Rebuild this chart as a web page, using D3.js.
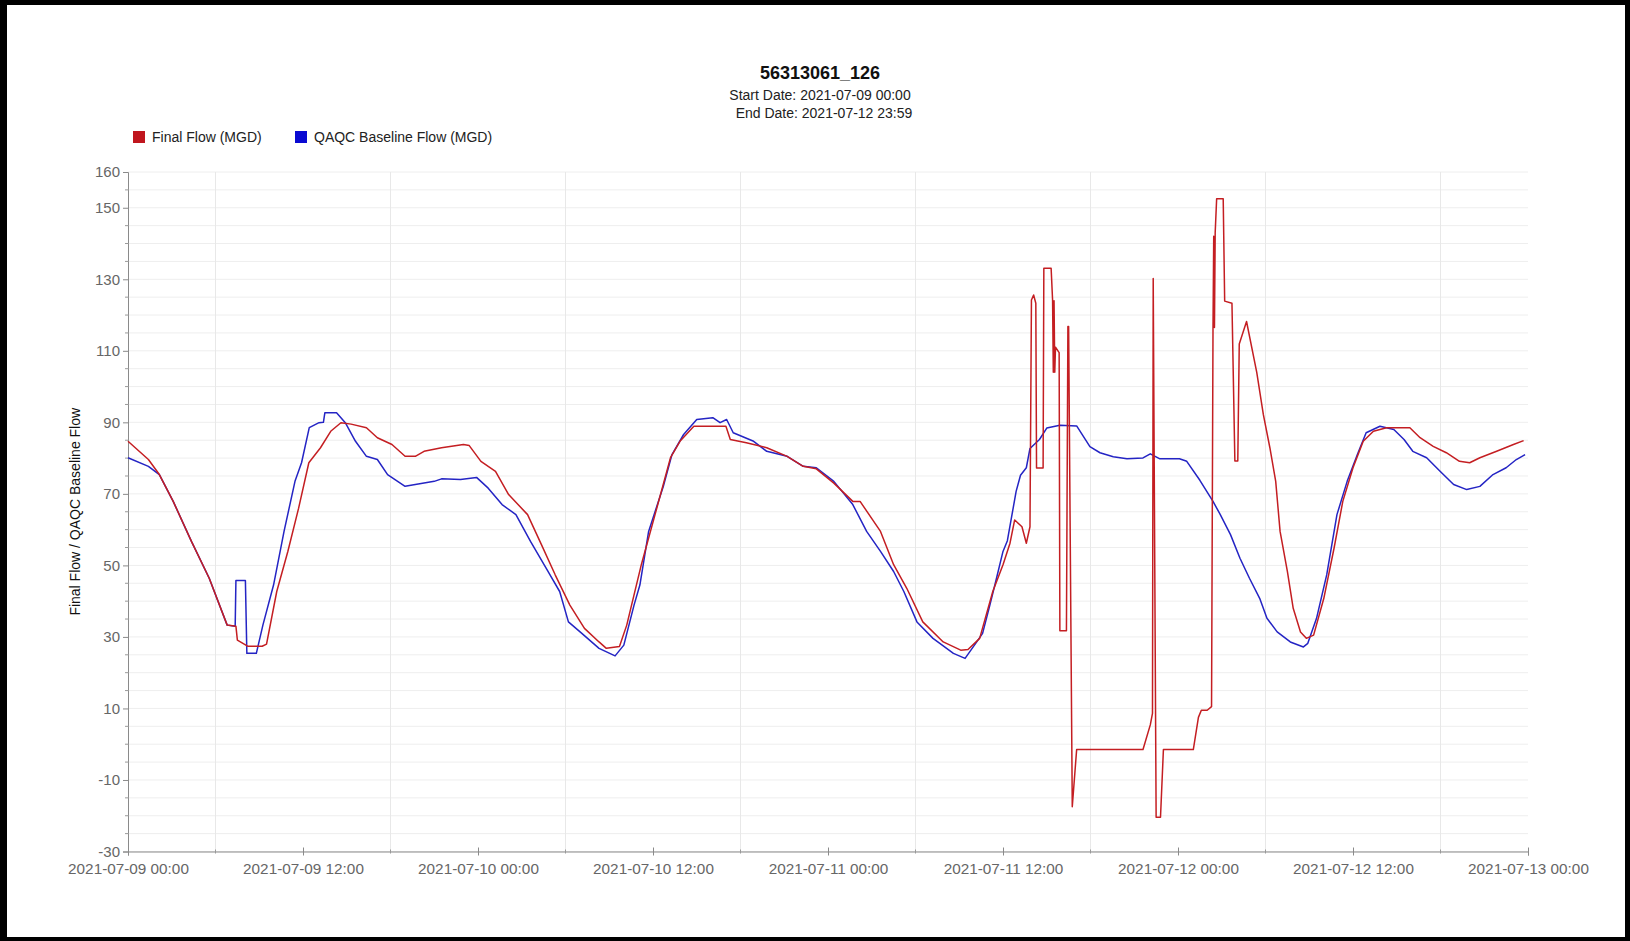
<!DOCTYPE html>
<html>
<head>
<meta charset="utf-8">
<script src="https://cdn.jsdelivr.net/npm/d3@7"></script>
<style>
  html, body { margin: 0; padding: 0; background: #000; }
  svg { display: block; }
  text { font-family: "Liberation Sans", Arial, Helvetica, sans-serif; }
</style>
</head>
<body>
<svg id="chart" width="1630" height="941"></svg>
<script>
// ---------------- DATA ----------------
const chartTitle = "56313061_126";
const subtitleLines = ["Start Date: 2021-07-09 00:00", "End Date: 2021-07-12 23:59"];
const seriesNames = ["Final Flow (MGD)", "QAQC Baseline Flow (MGD)"];
const yAxisTitle = "Final Flow / QAQC Baseline Flow";
const startTime = "2021-07-09T00:00:00Z";
const endTime = "2021-07-13T00:00:00Z";
const yTickValues = [-30, -10, 10, 30, 50, 70, 90, 110, 130, 150, 160];

// hours since 2021-07-09 00:00
const baselineHours = [
  0, 1.4, 2.15, 3.1, 4.35, 5.57, 6.8, 7.35, 7.4, 8.05, 8.15, 8.8, 9.25, 9.98, 10.7, 11.45, 11.9,
  12.43, 13.1, 13.4, 13.5, 14.3, 14.9, 15.6, 16.35, 17.1, 17.8, 19.0, 19.7, 21.0, 21.5, 22.8, 23.9,
  24.7, 25.65, 26.6, 27.6, 28.8, 29.6, 30.2, 31.0, 32.3, 33.4, 34.0, 34.7, 35.1, 35.7, 36.7, 37.3,
  38.1, 39.0, 40.1, 40.6, 41.05, 41.5, 42.9, 43.8, 45.2, 46.3, 47.2, 48.4, 49.7, 50.65, 51.6, 52.5,
  53.2, 54.1, 55.2, 56.6, 57.4, 58.2, 58.6, 59.1, 59.5, 60.0, 60.3, 60.9, 61.2, 61.6, 61.85, 62.5,
  63.0, 63.9, 65.05, 65.96, 66.65, 67.56, 68.5, 69.6, 70.1, 70.76, 72.1, 72.6, 73.5, 74.4, 74.9,
  75.6, 76.25, 76.9, 77.6, 78.1, 78.8, 79.7, 80.6, 80.9, 81.5, 82.2, 82.9, 83.6, 84.3, 84.9, 85.85,
  86.8, 87.5, 88.1, 89.05, 89.97, 90.9, 91.8, 92.7, 93.6, 94.5, 95.2, 95.8
];
const baselineFlow = [
  80.1, 77.7, 75.4, 67.9, 56.7, 46.4, 33.3, 33.0, 45.8, 45.8, 25.4, 25.4, 33.3, 44.5, 59.5, 73.5, 78.7,
  88.5, 89.9, 90.0, 92.7, 92.7, 89.9, 84.7, 80.5, 79.6, 75.4, 72.1, 72.6, 73.5, 74.2, 74.0, 74.6,
  71.6, 67.0, 64.2, 56.7, 48.3, 42.7, 34.2, 31.4, 26.8, 24.7, 27.7, 38.9, 44.5, 59.5, 72.0, 81.0,
  86.6, 90.8, 91.3, 89.9, 90.8, 87.1, 84.7, 81.9, 80.5, 77.7, 77.3, 73.5, 67.0, 59.5, 53.9, 48.3,
  42.7, 34.2, 29.6, 25.4, 24.0, 28.6, 31.0, 38.9, 45.5, 53.9, 56.9, 70.7, 75.2, 77.3, 82.7, 85.2,
  88.4, 89.2, 89.0, 83.2, 81.5, 80.4, 79.8, 80.05, 81.2, 79.8, 79.8, 79.1, 73.8, 67.9, 64.2,
  58.6, 52.0, 46.4, 40.8, 35.2, 31.4, 28.6, 27.2, 28.2, 35.2, 47.4, 64.2, 73.5, 81.0, 87.1, 88.9,
  88.0, 85.2, 81.9, 80.1, 76.3, 72.6, 71.2, 72.1, 75.4, 77.3, 79.6, 81.0
];

const finalHours = [
  0, 1.4, 2.15, 3.1, 4.35, 5.57, 6.8, 7.4, 7.5, 8.2, 9.2, 9.5, 10.2, 10.96, 11.7, 12.4, 13.2, 13.9,
  14.6, 15.3, 16.35, 17.1, 18.1, 19.0, 19.7, 20.3, 21.5, 23.0, 23.4, 24.2, 25.2, 26.1, 27.4, 28.35,
  29.3, 30.3, 31.3, 32.3, 32.8, 33.7, 34.2, 35.2, 36.2, 37.2, 37.85, 38.8, 41.0, 41.3, 42.4, 43.8,
  45.2, 46.3, 47.2, 48.4, 49.7, 50.2, 51.6, 52.5, 53.4, 54.5, 55.9, 57.1, 57.6, 58.4, 59.3, 60.0,
  60.48, 60.8, 61.3, 61.6, 61.85, 61.95, 62.1, 62.25, 62.3, 62.75, 62.8, 63.3, 63.4, 63.45, 63.5,
  63.55, 63.6, 63.85, 63.9, 64.35, 64.45, 64.5, 64.75, 65.05, 69.6, 70.1, 70.25, 70.3, 70.5, 70.8,
  71.0, 73.05, 73.4, 73.6, 74.0, 74.3, 74.4, 74.45, 74.5, 74.55, 74.65, 75.1, 75.2, 75.7, 75.9,
  76.1, 76.2, 76.7, 77.4, 77.85, 78.3, 78.7, 79.0, 79.5, 79.9, 80.4, 80.8, 81.3, 82.0, 82.7, 83.3,
  84.0, 84.7, 85.4, 86.3, 87.9, 88.6, 89.5, 90.4, 91.3, 92.0, 92.7, 93.85, 95.0, 95.7
];
const finalFlow = [
  84.7, 79.6, 75.4, 67.9, 56.7, 46.4, 33.3, 33.0, 29.1, 27.4, 27.4, 28.0, 42.7, 53.9, 66.0, 78.7, 82.9, 87.5,
  89.9, 89.5, 88.5, 85.7, 83.8, 80.5, 80.5, 81.9, 82.9, 83.8, 83.5, 79.1, 76.3, 69.8, 64.2, 55.8,
  47.3, 38.9, 32.4, 28.6, 26.8, 27.3, 33.3, 50.2, 65.1, 80.1, 84.7, 88.9, 88.9, 85.2, 84.3, 82.9,
  80.5, 77.7, 77.0, 73.0, 67.9, 67.9, 59.5, 50.2, 43.6, 34.2, 28.6, 26.3, 26.5, 29.6, 42.7, 50.2,
  56.2, 62.7, 60.8, 56.2, 60.8, 124.2, 125.6, 123.3, 77.2, 77.2, 133.1, 133.1, 124.2, 104.0, 124.0,
  104.0, 111.0, 109.5, 31.7, 31.7, 116.8, 116.8, -17.5, -1.5, -1.5, 5.4, 8.6, 130.2, -20.4, -20.4,
  -1.5, -1.5, 7.5, 9.5, 9.5, 10.5, 116.2, 142.0, 116.5, 143.0, 152.5, 152.5, 123.9, 123.3, 79.2,
  79.2, 111.9, 118.2, 104.0, 92.2, 82.9, 73.5, 59.5, 48.3, 38.0, 31.4, 29.6, 30.5, 40.8, 54.8, 67.9,
  77.3, 84.7, 87.5, 88.5, 88.5, 85.7, 83.3, 81.5, 79.1, 78.7, 80.1, 81.9, 83.8, 84.9
];

const seriesColors = ["#c41e22", "#2424c4"];
const legendColors = ["#c0161e", "#0a0ad2"];

// ---------------- CHART ----------------
const W = 1630, H = 941;
const svg = d3.select("#chart");
const font = '"Liberation Sans", Arial, Helvetica, sans-serif';

// frame
svg.append("rect").attr("x", 0).attr("y", 0).attr("width", W).attr("height", H).attr("fill", "#000");
svg.append("rect").attr("x", 7).attr("y", 5).attr("width", 1618).attr("height", 932).attr("fill", "#fff");

const plot = { left: 128, right: 1528, top: 172, bottom: 851.5 };
const t0 = new Date(startTime), t1 = new Date(endTime);
const toDate = h => new Date(t0.getTime() + h * 3600 * 1000);

const x = d3.scaleUtc().domain([t0, t1]).range([plot.left, plot.right]);
const y = d3.scaleLinear().domain([-30, 160]).range([plot.bottom, plot.top]);

// grid
const hGrid = d3.range(-30, 161, 5);
svg.append("g").selectAll("line").data(hGrid).join("line")
  .attr("x1", plot.left).attr("x2", plot.right)
  .attr("y1", d => y(d)).attr("y2", d => y(d))
  .attr("stroke", "#eeeeee").attr("stroke-width", 1);
const vGrid = d3.range(6, 96, 12).map(toDate);
svg.append("g").selectAll("line").data(vGrid).join("line")
  .attr("x1", d => x(d)).attr("x2", d => x(d))
  .attr("y1", plot.top).attr("y2", plot.bottom)
  .attr("stroke", "#e8e8e8").attr("stroke-width", 1);

// y axis
const yAxis = d3.axisLeft(y).tickValues(yTickValues).tickSize(5).tickPadding(3).tickFormat(d => String(d));
const gy = svg.append("g").attr("transform", `translate(${plot.left},0)`).call(yAxis);
gy.select(".domain").attr("stroke", "#8a8a8a");
gy.selectAll(".tick line").attr("stroke", "#8a8a8a");
gy.selectAll(".tick text").attr("fill", "#666").style("font-size", "15px").style("font-family", font);
// y minor ticks
svg.append("g").selectAll("line").data(hGrid.filter(v => !yTickValues.includes(v))).join("line")
  .attr("x1", plot.left - 3).attr("x2", plot.left + 1)
  .attr("y1", d => y(d)).attr("y2", d => y(d))
  .attr("stroke", "#9a9a9a");

// x axis
const xTicks = d3.range(0, 97, 12).map(toDate);
const xAxis = d3.axisBottom(x).tickValues(xTicks).tickSize(4).tickPadding(8)
  .tickFormat(d3.utcFormat("%Y-%m-%d %H:%M"));
const gx = svg.append("g").attr("transform", `translate(0,${plot.bottom})`).call(xAxis);
gx.select(".domain").attr("stroke", "#8a8a8a");
gx.selectAll(".tick line").attr("stroke", "#8a8a8a").attr("y1", -4).attr("y2", 4);
gx.selectAll(".tick text").attr("fill", "#666").style("font-size", "15.3px").style("font-family", font);
// x minor ticks
svg.append("g").selectAll("line").data(vGrid).join("line")
  .attr("x1", d => x(d)).attr("x2", d => x(d))
  .attr("y1", plot.bottom - 2).attr("y2", plot.bottom + 2)
  .attr("stroke", "#9a9a9a");

// lines
const finalData = finalHours.map((h, i) => ({ t: toDate(h), v: finalFlow[i] }));
const baseData = baselineHours.map((h, i) => ({ t: toDate(h), v: baselineFlow[i] }));
const line = d3.line().x(d => x(d.t)).y(d => y(d.v));

svg.append("path").datum(baseData).attr("d", line)
  .attr("fill", "none").attr("stroke", seriesColors[1]).attr("stroke-width", 1.5).attr("stroke-linejoin", "round");
svg.append("path").datum(finalData).attr("d", line)
  .attr("fill", "none").attr("stroke", seriesColors[0]).attr("stroke-width", 1.5).attr("stroke-linejoin", "round");

// title
svg.append("text").attr("x", 820).attr("y", 79).attr("text-anchor", "middle")
  .style("font-size", "18px").style("font-weight", "bold").attr("fill", "#111").text(chartTitle);
svg.append("text").attr("x", 820).attr("y", 99.5).attr("text-anchor", "middle")
  .style("font-size", "14px").attr("fill", "#222").text(subtitleLines[0]);
svg.append("text").attr("x", 824).attr("y", 118).attr("text-anchor", "middle")
  .style("font-size", "14px").attr("fill", "#222").text(subtitleLines[1]);

// legend
const legendX = [133, 295];
seriesNames.forEach((name, i) => {
  svg.append("rect").attr("x", legendX[i]).attr("y", 131).attr("width", 12).attr("height", 12)
    .attr("fill", legendColors[i]);
  svg.append("text").attr("x", legendX[i] + 19).attr("y", 142)
    .style("font-size", "14px").attr("fill", "#222").text(name);
});

// y axis title
svg.append("text")
  .attr("transform", `translate(80,${(plot.top + plot.bottom) / 2}) rotate(-90)`)
  .attr("text-anchor", "middle")
  .style("font-size", "14px").attr("fill", "#111").text(yAxisTitle);
</script>
</body>
</html>
